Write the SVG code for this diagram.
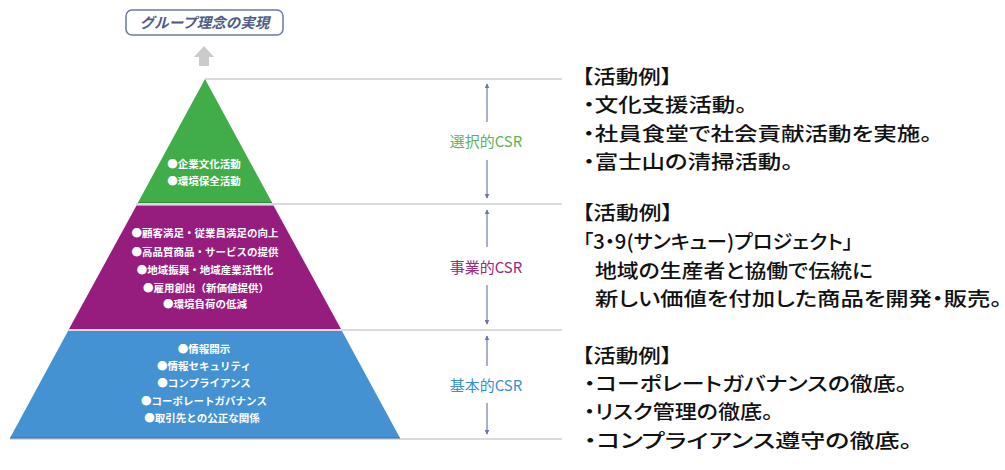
<svg xmlns="http://www.w3.org/2000/svg" width="1005" height="470" viewBox="0 0 1005 470">
<defs>
<style>
.jp{font-family:"Noto Sans CJK JP","Noto Sans CJK SC",sans-serif;}
.pt{font-family:"Noto Sans CJK JP",sans-serif;font-size:10.5px;font-weight:bold;fill:#ffffff;text-anchor:middle;}
.lbl{font-family:"Noto Sans CJK JP",sans-serif;font-size:15px;text-anchor:middle;}
.rt{font-family:"Noto Sans CJK JP",sans-serif;font-size:19.5px;font-weight:500;fill:#111111;font-feature-settings:"palt";}
.sep{stroke:#cdced6;stroke-width:1.5;fill:none;}
.va{stroke:#7d84b6;stroke-width:1.3;fill:none;marker-end:url(#ah);}
</style>
<marker id="ah" viewBox="0 0 8 8" refX="7" refY="4" markerWidth="5" markerHeight="5" orient="auto" markerUnits="userSpaceOnUse">
<path d="M0,0 L8,4 L0,8 z" fill="#6d74aa"/>
</marker>
</defs>
<rect width="1005" height="470" fill="#ffffff"/>

<g id="goal">
<rect x="126" y="10" width="157" height="25" rx="6" ry="6" fill="#ffffff" stroke="#6a7aa0" stroke-width="1.5"/>
<text x="204.5" y="28" class="jp" font-size="14.5" font-weight="bold" font-style="italic" fill="#4d5c88" text-anchor="middle">グループ理念の実現</text>
</g>

<g id="up-arrow">
<path d="M204,46 L214,57 L209,57 L209,66 L199,66 L199,57 L194,57 z" fill="#cbcbcb"/>
</g>

<g id="connectors">
<line class="sep" x1="205" y1="79" x2="562" y2="79"/>
<line class="sep" x1="136" y1="204" x2="562" y2="204"/>
<line class="sep" x1="68" y1="330" x2="562" y2="330"/>
<line class="sep" x1="10" y1="439" x2="562" y2="439"/>
<line class="va" x1="487" y1="122" x2="487" y2="84"/>
<line class="va" x1="487" y1="160" x2="487" y2="198"/>
<line class="va" x1="487" y1="247" x2="487" y2="210"/>
<line class="va" x1="487" y1="285" x2="487" y2="324"/>
<line class="va" x1="487" y1="366" x2="487" y2="336"/>
<line class="va" x1="487" y1="403" x2="487" y2="434"/>
</g>

<g id="tier-selective">
<polygon points="205,79 272,202.5 138,202.5" fill="#41ad49"/>
<line x1="138" y1="202.5" x2="272" y2="202.5" stroke="#2f8a3a" stroke-width="1"/>
<text class="pt" x="204" y="168">●企業文化活動</text>
<text class="pt" x="204" y="185">●環境保全活動</text>
<text class="lbl" x="486" y="147" fill="#5bb45a">選択的CSR</text>
</g>

<g id="tier-business">
<polygon points="136.5,205.5 273.5,205.5 341,329 69,329" fill="#961c7e"/>
<text class="pt" x="205" y="237">●顧客満足・従業員満足の向上</text>
<text class="pt" x="205" y="256">●高品質商品・サービスの提供</text>
<text class="pt" x="205" y="274">●地域振興・地域産業活性化</text>
<text class="pt" x="206" y="292">●雇用創出（新価値提供）</text>
<text class="pt" x="205" y="308">●環境負荷の低減</text>
<text class="lbl" x="486" y="273" fill="#9a2a80">事業的CSR</text>
</g>

<g id="tier-basic">
<polygon points="68,331 342,331 400,438 10,438" fill="#4592d2"/>
<line x1="10" y1="438" x2="400" y2="438" stroke="#3a6d9e" stroke-width="1.2"/>
<text class="pt" x="204" y="353">●情報開示</text>
<text class="pt" x="204" y="370">●情報セキュリティ</text>
<text class="pt" x="204" y="387">●コンプライアンス</text>
<text class="pt" x="204" y="405">●コーポレートガバナンス</text>
<text class="pt" x="202" y="422">●取引先との公正な関係</text>
<text class="lbl" x="486" y="391" fill="#3a90cf">基本的CSR</text>
</g>

<g id="examples-selective">
<text class="rt" x="582" y="84" textLength="90" lengthAdjust="spacingAndGlyphs">【活動例】</text>
<text class="rt" x="583" y="112" textLength="164" lengthAdjust="spacingAndGlyphs">・文化支援活動。</text>
<text class="rt" x="583" y="141" textLength="349" lengthAdjust="spacingAndGlyphs">・社員食堂で社会貢献活動を実施。</text>
<text class="rt" x="583" y="169" textLength="210" lengthAdjust="spacingAndGlyphs">・富士山の清掃活動。</text>
</g>

<g id="examples-business">
<text class="rt" x="582" y="220" textLength="91" lengthAdjust="spacingAndGlyphs">【活動例】</text>
<text class="rt" x="583" y="249" textLength="270" lengthAdjust="spacingAndGlyphs">「3・9(サンキュー)プロジェクト」</text>
<text class="rt" x="595" y="278" textLength="278" lengthAdjust="spacingAndGlyphs">地域の生産者と協働で伝統に</text>
<text class="rt" x="595" y="306" textLength="407" lengthAdjust="spacingAndGlyphs">新しい価値を付加した商品を開発・販売。</text>
</g>

<g id="examples-basic">
<text class="rt" x="582" y="363" textLength="90" lengthAdjust="spacingAndGlyphs">【活動例】</text>
<text class="rt" x="584" y="391" textLength="323" lengthAdjust="spacingAndGlyphs">・コーポレートガバナンスの徹底。</text>
<text class="rt" x="584" y="419" textLength="189" lengthAdjust="spacingAndGlyphs">・リスク管理の徹底。</text>
<text class="rt" x="584" y="448" textLength="328" lengthAdjust="spacingAndGlyphs">・コンプライアンス遵守の徹底。</text>
</g>
</svg>
